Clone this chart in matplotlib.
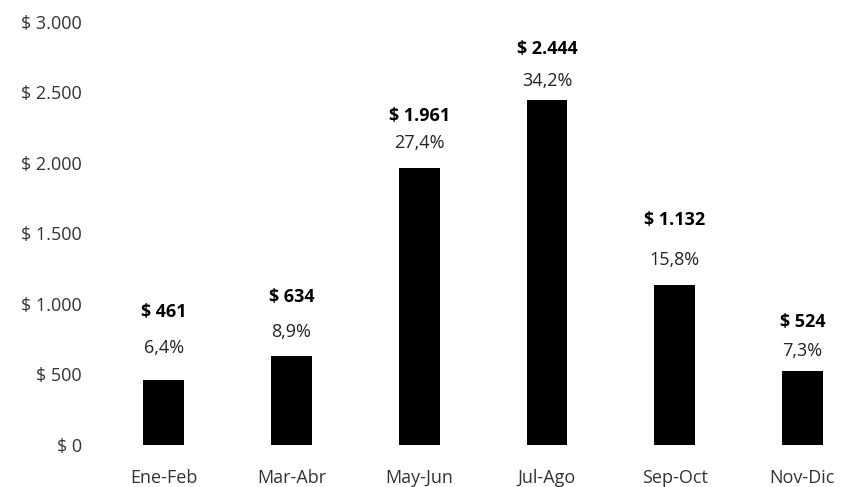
import matplotlib
matplotlib.use("Agg")
import matplotlib.pyplot as plt

categories = ["Ene-Feb", "Mar-Abr", "May-Jun", "Jul-Ago", "Sep-Oct", "Nov-Dic"]
values = [461, 634, 1961, 2444, 1132, 524]
value_labels = ["$ 461", "$ 634", "$ 1.961", "$ 2.444", "$ 1.132", "$ 524"]
pct_labels = ["6,4%", "8,9%", "27,4%", "34,2%", "15,8%", "7,3%"]
yticks = [0, 500, 1000, 1500, 2000, 2500, 3000]
ytick_labels = ["$ 0", "$ 500", "$ 1.000", "$ 1.500", "$ 2.000", "$ 2.500", "$ 3.000"]

# layout: label offsets above bar top (pixels)
pct_off = [32, 24, 25, 19, 25, 20]
val_off = [68, 59, 52, 51, 65, 49]

plt.rcParams['font.family'] = ['Open Sans', 'DejaVu Sans']

W, H = 841, 487
fig = plt.figure(figsize=(W / 100, H / 100), dpi=100)
left, right, bottom, top = 100, 841, 445, 22
ax = fig.add_axes([left / W, (H - bottom) / H, (right - left) / W, (bottom - top) / H])

x = range(len(categories))
ax.bar(x, values, width=0.32, color="black")
ax.set_xlim(-0.5, -0.5 + (right - left) / 127.7)
ax.set_ylim(0, 3000)

ax.set_yticks(yticks)
ax.set_yticklabels(ytick_labels)
ax.set_xticks(list(x))
ax.set_xticklabels(categories)
ax.tick_params(axis="both", length=0, labelsize=13, colors="#333333")
ax.tick_params(axis="y", pad=13)
ax.tick_params(axis="x", pad=17)
for s in ax.spines.values():
    s.set_visible(False)

px = 3000 / (bottom - top)
for i, v in enumerate(values):
    ax.text(i, v + pct_off[i] * px, pct_labels[i], ha="center", va="center",
            fontsize=13, color="#222222")
    ax.text(i, v + val_off[i] * px, value_labels[i], ha="center", va="center",
            fontsize=13, fontweight="bold", color="black")

fig.savefig("out.png", dpi=100)
